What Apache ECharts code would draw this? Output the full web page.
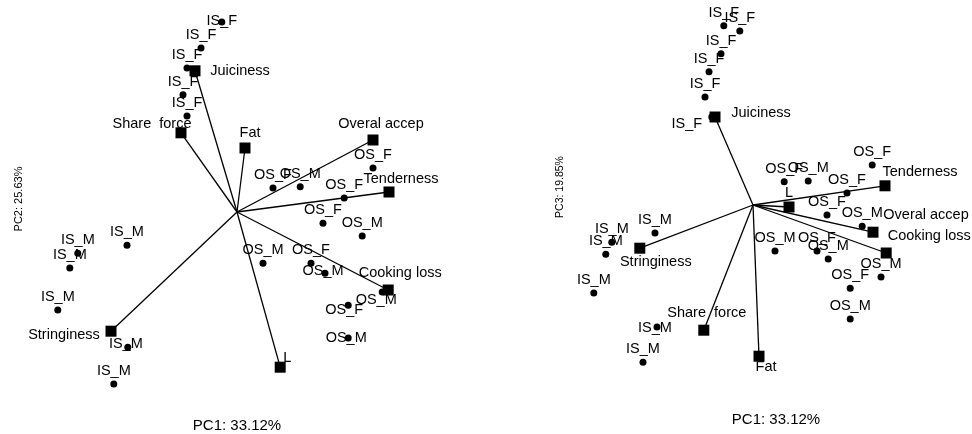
<!DOCTYPE html>
<html>
<head>
<meta charset="utf-8">
<script src="https://cdn.jsdelivr.net/npm/echarts@6/dist/echarts.min.js"></script>
<style>
html,body{margin:0;padding:0;background:#fff;}
#chart{width:972px;height:434px;}
</style>
</head>
<body>
<div id="chart"></div>
<script>
// ---------- DATA (PC scores / loadings) ----------
// Left biplot: PC1 vs PC2
const leftVarNames = ['Juiciness', 'Share  force', 'Fat', 'Overal accep', 'Tenderness', 'Cooking loss', 'L', 'Stringiness'];
const leftVarX = [-1.05, -1.40, 0.20, 3.40, 3.80, 3.78, 1.08, -3.15];
const leftVarY = [3.53, 1.98, 1.60, 1.80, 0.50, -1.95, -3.88, -2.98];

const leftSampleNames = ['IS_F', 'IS_F', 'IS_F', 'IS_F', 'IS_F',
  'IS_M', 'IS_M', 'IS_M', 'IS_M', 'IS_M', 'IS_M',
  'OS_F', 'OS_F', 'OS_F', 'OS_F', 'OS_F', 'OS_F',
  'OS_M', 'OS_M', 'OS_M', 'OS_M', 'OS_M', 'OS_M'];
const leftSampleX = [-0.38, -0.90, -1.25, -1.35, -1.25,
  -2.75, -3.98, -4.18, -4.48, -2.73, -3.08,
  3.40, 0.90, 2.68, 2.15, 1.85, 2.78,
  1.58, 3.13, 0.65, 2.20, 3.63, 2.78];
const leftSampleY = [4.75, 4.10, 3.60, 2.93, 2.40,
  -0.83, -1.03, -1.40, -2.45, -3.38, -4.30,
  1.10, 0.60, 0.35, -0.28, -1.28, -2.33,
  0.63, -0.60, -1.28, -1.53, -2.00, -3.15];

// Right biplot: PC1 vs PC3
const rightVarNames = ['Juiciness', 'Tenderness', 'Overal accep', 'Cooking loss', 'L', 'Stringiness', 'Share  force', 'Fat'];
const rightVarX = [-0.95, 3.30, 3.00, 3.33, 0.90, -2.83, -1.23, 0.15];
const rightVarY = [2.20, 0.48, -0.68, -1.20, -0.05, -1.08, -3.13, -3.78];

const rightSampleNames = ['IS_F', 'IS_F', 'IS_F', 'IS_F', 'IS_F', 'IS_F',
  'IS_M', 'IS_M', 'IS_M', 'IS_M', 'IS_M', 'IS_M',
  'OS_F', 'OS_F', 'OS_F', 'OS_F', 'OS_F', 'OS_F',
  'OS_M', 'OS_M', 'OS_M', 'OS_M', 'OS_M', 'OS_M'];
const rightSampleX = [-0.73, -0.33, -0.80, -1.10, -1.20, -1.03,
  -2.45, -3.53, -3.68, -3.98, -2.40, -2.75,
  2.98, 0.78, 2.35, 1.85, 1.60, 2.43,
  1.38, 2.73, 0.55, 1.88, 3.20, 2.43];
const rightSampleY = [4.48, 4.35, 3.78, 3.33, 2.70, 2.20,
  -0.70, -0.93, -1.23, -2.20, -3.05, -3.93,
  1.00, 0.58, 0.30, -0.25, -1.15, -2.08,
  0.60, -0.53, -1.15, -1.35, -1.80, -2.85];

const xTitle = 'PC1: 33.12%';
const leftYTitle = 'PC2: 25.63%';
const rightYTitle = 'PC3: 19.85%';

// ---------- STYLE (label placement, px relative to the marker centre) ----------
const leftVarLabelOffset = {
  'Juiciness': [45, 0], 'Share  force': [-29, -9], 'Fat': [5, -15], 'Overal accep': [8, -16],
  'Tenderness': [12, -13], 'Cooking loss': [12, -17], 'L': [7, -9], 'Stringiness': [-47, 4]
};
const rightVarLabelOffset = {
  'Juiciness': [46, -4], 'Tenderness': [35, -14], 'Overal accep': [53, -17], 'Cooking loss': [43, -17],
  'L': [0, -14], 'Stringiness': [16, 14], 'Share  force': [3, -17], 'Fat': [7, 11]
};
const defaultSampleOffset = [0, -13];
const leftSampleOffsetOverride = {0: [0, -1], 9: [-2, -3], 16: [-4, 5], 20: [-2, -2], 21: [-6, 8], 22: [-2, 0]};
const rightSampleOffsetOverride = {5: [-25, 7], 10: [-2, 1]};

const FONT = '"Liberation Sans", Arial, sans-serif';
const LABEL_SIZE = 14.5;

function varData(names, xs, ys, offsets) {
  return names.map((n, i) => ({
    name: n, value: [xs[i], ys[i]],
    label: {offset: offsets[n] || [0, -14]}
  }));
}
function sampleData(names, xs, ys, overrides) {
  return names.map((n, i) => ({
    name: n, value: [xs[i], ys[i]],
    label: {offset: overrides[i] || defaultSampleOffset}
  }));
}
function vectorData(xs, ys) {
  return xs.map((x, i) => ({coords: [[0, 0], [x, ys[i]]]}));
}

const hiddenAxis = (gi) => ({
  type: 'value', gridIndex: gi, min: -5, max: 5,
  axisLine: {show: false}, axisTick: {show: false}, axisLabel: {show: false}, splitLine: {show: false}
});

const labelBase = {
  show: true, position: 'inside', formatter: '{b}', color: '#000',
  fontFamily: FONT, fontSize: LABEL_SIZE
};

function plotSeries(gi, vx, vy, vnames, voff, snames, sx, sy, soff) {
  return [
    {
      type: 'lines', coordinateSystem: 'cartesian2d', xAxisIndex: gi, yAxisIndex: gi,
      polyline: false, silent: true, z: 1,
      lineStyle: {color: '#000', width: 1.3, opacity: 1},
      data: vectorData(vx, vy)
    },
    {
      type: 'scatter', xAxisIndex: gi, yAxisIndex: gi, symbol: 'rect', symbolSize: 11, z: 3,
      itemStyle: {color: '#000', opacity: 1},
      label: labelBase,
      data: varData(vnames, vx, vy, voff)
    },
    {
      type: 'scatter', xAxisIndex: gi, yAxisIndex: gi, symbol: 'circle', symbolSize: 7, z: 2,
      itemStyle: {color: '#000', opacity: 1},
      label: labelBase,
      data: sampleData(snames, sx, sy, soff)
    }
  ];
}

const chart = echarts.init(document.getElementById('chart'), null, {renderer: 'canvas'});
chart.setOption({
  animation: false,
  backgroundColor: '#fff',
  grid: [
    {left: 37, top: 12, width: 400, height: 400},
    {left: 553, top: 5, width: 400, height: 400}
  ],
  xAxis: [hiddenAxis(0), hiddenAxis(1)],
  yAxis: [hiddenAxis(0), hiddenAxis(1)],
  graphic: [
    {type: 'text', x: 237, y: 426, style: {text: xTitle, font: '15px ' + FONT, fill: '#000', align: 'center', verticalAlign: 'middle'}},
    {type: 'text', x: 776, y: 420, style: {text: xTitle, font: '15px ' + FONT, fill: '#000', align: 'center', verticalAlign: 'middle'}},
    {type: 'text', x: 19, y: 199, rotation: Math.PI / 2, style: {text: leftYTitle, font: '11px ' + FONT, fill: '#000', align: 'center', verticalAlign: 'middle'}},
    {type: 'text', x: 560, y: 187, rotation: Math.PI / 2, style: {text: rightYTitle, font: '10.5px ' + FONT, fill: '#000', align: 'center', verticalAlign: 'middle'}}
  ],
  series: [].concat(
    plotSeries(0, leftVarX, leftVarY, leftVarNames, leftVarLabelOffset,
      leftSampleNames, leftSampleX, leftSampleY, leftSampleOffsetOverride),
    plotSeries(1, rightVarX, rightVarY, rightVarNames, rightVarLabelOffset,
      rightSampleNames, rightSampleX, rightSampleY, rightSampleOffsetOverride)
  )
});
</script>
</body>
</html>
